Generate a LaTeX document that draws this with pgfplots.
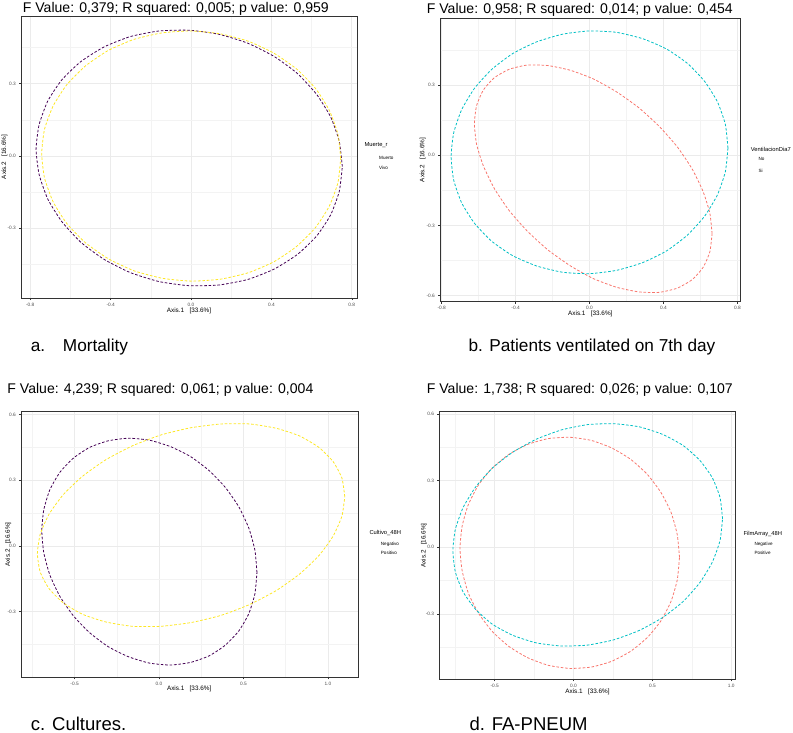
\documentclass[border=0pt]{standalone}
\usepackage{pgfplots}
\pgfplotsset{compat=1.18}
\usepackage{fontspec}
\setmainfont{Liberation Sans}
\definecolor{vpurple}{HTML}{440154}
\definecolor{vyellow}{HTML}{FDE725}
\definecolor{hred}{HTML}{F8766D}
\definecolor{hcyan}{HTML}{00BFC4}
\definecolor{gridc}{HTML}{EBEBEB}
\definecolor{tickc}{HTML}{4D4D4D}
\definecolor{framec}{HTML}{333333}
\pgfplotsset{
  pcoa/.style={
    scale only axis,
    anchor=north west,
    axis line style={draw=framec, line width=0.6bp},
    tick pos=left,
    tick align=outside,
    major tick length=2bp,
    minor tick length=0pt,
    tick style={draw=framec, line width=0.5bp},
    grid=both,
    major grid style={draw=gridc, line width=0.6bp},
    minor grid style={draw=gridc!60!white, line width=0.35bp},
    ticklabel style={font=\fontsize{4.8}{5}\selectfont, text=tickc, inner sep=0pt},
    xticklabel style={anchor=north, yshift=-2.5bp},
    yticklabel style={anchor=east, xshift=-3bp},
    /pgf/number format/fixed,
    /pgf/number format/fixed zerofill,
    /pgf/number format/precision=1,
    /pgf/number format/assume math mode=true,
  },
  ell/.style={line width=0.8bp, dash pattern=on 2.6bp off 1.8bp, smooth, tension=0.336, mark=none},
}
\begin{document}
\begin{tikzpicture}
\useasboundingbox (0,0) rectangle (793bp,-733bp);
% ---------- panel a
\begin{axis}[pcoa, at={(21bp,-16bp)}, width=336bp, height=282bp,
  xmin=-0.846, xmax=0.826, ymin=-0.589, ymax=0.581,
  xtick={-0.8,-0.4,0,0.4,0.8}, minor xtick={-0.6,-0.2,0.2,0.6},
  ytick={-0.3,0,0.3}, minor ytick={-0.45,-0.15,0.15,0.45}]
\addplot[ell, color=vpurple] coordinates {(0.753,-0.044) (0.738,0.060) (0.695,0.162) (0.625,0.256) (0.530,0.342) (0.414,0.413) (0.283,0.468) (0.140,0.505) (-0.009,0.522) (-0.158,0.519) (-0.301,0.496) (-0.432,0.453) (-0.548,0.392) (-0.643,0.316) (-0.713,0.228) (-0.756,0.130) (-0.771,0.028) (-0.756,-0.076) (-0.713,-0.178) (-0.643,-0.272) (-0.548,-0.358) (-0.432,-0.429) (-0.301,-0.484) (-0.158,-0.521) (-0.009,-0.538) (0.140,-0.535) (0.283,-0.512) (0.414,-0.469) (0.530,-0.408) (0.625,-0.332) (0.695,-0.244) (0.738,-0.146) (0.753,-0.044)};
\addplot[ell, color=vyellow] coordinates {(0.745,-0.010) (0.731,0.091) (0.688,0.190) (0.620,0.280) (0.527,0.360) (0.414,0.426) (0.286,0.476) (0.146,0.507) (0.001,0.519) (-0.144,0.511) (-0.284,0.484) (-0.412,0.438) (-0.525,0.374) (-0.618,0.296) (-0.686,0.208) (-0.729,0.111) (-0.743,0.010) (-0.729,-0.091) (-0.686,-0.190) (-0.618,-0.280) (-0.525,-0.360) (-0.412,-0.426) (-0.284,-0.476) (-0.144,-0.507) (0.001,-0.519) (0.146,-0.511) (0.286,-0.484) (0.414,-0.438) (0.527,-0.374) (0.620,-0.296) (0.688,-0.208) (0.731,-0.111) (0.745,-0.010)};
\end{axis}
% ---------- panel b
\begin{axis}[pcoa, at={(440bp,-18.3bp)}, width=300.7bp, height=283.4bp,
  xmin=-0.809, xmax=0.818, ymin=-0.626, ymax=0.586,
  xtick={-0.8,-0.4,0,0.4,0.8}, minor xtick={-0.6,-0.2,0.2,0.6},
  ytick={-0.6,-0.3,0,0.3}, minor ytick={-0.45,-0.15,0.15,0.45}]
\addplot[ell, color=hred] coordinates {(0.663,-0.335) (0.651,-0.247) (0.614,-0.154) (0.555,-0.058) (0.475,0.036) (0.377,0.124) (0.266,0.204) (0.145,0.272) (0.020,0.327) (-0.105,0.364) (-0.226,0.384) (-0.337,0.386) (-0.435,0.368) (-0.515,0.332) (-0.574,0.280) (-0.611,0.213) (-0.623,0.135) (-0.611,0.047) (-0.574,-0.046) (-0.515,-0.142) (-0.435,-0.236) (-0.337,-0.324) (-0.226,-0.404) (-0.105,-0.472) (0.020,-0.527) (0.145,-0.564) (0.266,-0.584) (0.377,-0.586) (0.475,-0.568) (0.555,-0.532) (0.614,-0.480) (0.651,-0.413) (0.663,-0.335)};
\addplot[ell, color=hcyan] coordinates {(0.749,0.031) (0.735,0.132) (0.692,0.229) (0.623,0.316) (0.530,0.393) (0.416,0.455) (0.287,0.499) (0.146,0.526) (0.000,0.532) (-0.146,0.518) (-0.287,0.485) (-0.416,0.435) (-0.530,0.367) (-0.623,0.286) (-0.692,0.195) (-0.735,0.096) (-0.749,-0.005) (-0.735,-0.106) (-0.692,-0.203) (-0.623,-0.290) (-0.530,-0.367) (-0.416,-0.429) (-0.287,-0.473) (-0.146,-0.500) (0.000,-0.506) (0.146,-0.492) (0.287,-0.459) (0.416,-0.409) (0.530,-0.341) (0.623,-0.260) (0.692,-0.169) (0.735,-0.070) (0.749,0.031)};
\end{axis}
% ---------- panel c
\begin{axis}[pcoa, at={(21bp,-411.7bp)}, width=337.3bp, height=265.6bp,
  xmin=-0.817, xmax=1.18, ymin=-0.6, ymax=0.613,
  xtick={-0.5,0,0.5,1}, minor xtick={-0.75,-0.25,0.25,0.75},
  ytick={-0.3,0,0.3,0.6}, minor ytick={-0.45,-0.15,0.15,0.45}]
\addplot[ell, color=vpurple] coordinates {(0.580,-0.121) (0.568,-0.020) (0.532,0.081) (0.473,0.178) (0.393,0.267) (0.297,0.344) (0.187,0.408) (0.067,0.454) (-0.057,0.483) (-0.181,0.492) (-0.301,0.480) (-0.411,0.450) (-0.507,0.401) (-0.587,0.336) (-0.646,0.257) (-0.682,0.166) (-0.694,0.069) (-0.682,-0.032) (-0.646,-0.133) (-0.587,-0.230) (-0.507,-0.319) (-0.411,-0.396) (-0.301,-0.460) (-0.181,-0.506) (-0.057,-0.535) (0.067,-0.544) (0.187,-0.532) (0.297,-0.502) (0.393,-0.453) (0.473,-0.388) (0.532,-0.309) (0.568,-0.218) (0.580,-0.121)};
\addplot[ell, color=vyellow] coordinates {(1.100,0.225) (1.083,0.310) (1.031,0.385) (0.947,0.450) (0.833,0.502) (0.696,0.537) (0.538,0.557) (0.368,0.557) (0.190,0.540) (0.012,0.507) (-0.158,0.457) (-0.316,0.393) (-0.453,0.318) (-0.567,0.234) (-0.651,0.145) (-0.703,0.054) (-0.720,-0.035) (-0.703,-0.120) (-0.651,-0.195) (-0.567,-0.260) (-0.453,-0.312) (-0.316,-0.347) (-0.158,-0.367) (0.012,-0.367) (0.190,-0.350) (0.368,-0.317) (0.538,-0.267) (0.696,-0.203) (0.833,-0.128) (0.947,-0.044) (1.031,0.045) (1.083,0.136) (1.100,0.225)};
\end{axis}
% ---------- panel d
\begin{axis}[pcoa, at={(439.3bp,-411.7bp)}, width=295.7bp, height=267.6bp,
  xmin=-0.851, xmax=1.024, ymin=-0.594, ymax=0.61,
  xtick={-0.5,0,0.5,1}, minor xtick={-0.75,-0.25,0.25,0.75},
  ytick={-0.3,0,0.3,0.6}, minor ytick={-0.45,-0.15,0.15,0.45}]
\addplot[ell, color=hred] coordinates {(0.672,-0.045) (0.658,0.056) (0.619,0.156) (0.554,0.247) (0.468,0.328) (0.362,0.396) (0.242,0.447) (0.112,0.481) (-0.024,0.495) (-0.160,0.489) (-0.290,0.463) (-0.410,0.418) (-0.516,0.356) (-0.602,0.281) (-0.667,0.192) (-0.706,0.096) (-0.720,-0.005) (-0.706,-0.106) (-0.667,-0.206) (-0.602,-0.297) (-0.516,-0.378) (-0.410,-0.446) (-0.290,-0.497) (-0.160,-0.531) (-0.024,-0.545) (0.112,-0.539) (0.242,-0.513) (0.362,-0.468) (0.468,-0.406) (0.554,-0.331) (0.619,-0.242) (0.658,-0.146) (0.672,-0.045)};
\addplot[ell, color=hcyan] coordinates {(0.945,0.128) (0.929,0.224) (0.880,0.313) (0.801,0.391) (0.695,0.458) (0.565,0.508) (0.417,0.542) (0.257,0.556) (0.090,0.552) (-0.077,0.528) (-0.237,0.486) (-0.385,0.428) (-0.515,0.356) (-0.621,0.271) (-0.700,0.179) (-0.749,0.082) (-0.765,-0.016) (-0.749,-0.112) (-0.700,-0.201) (-0.621,-0.279) (-0.515,-0.346) (-0.385,-0.396) (-0.237,-0.430) (-0.077,-0.444) (0.090,-0.440) (0.257,-0.416) (0.417,-0.374) (0.565,-0.316) (0.695,-0.244) (0.801,-0.159) (0.880,-0.067) (0.929,0.030) (0.945,0.128)};
\end{axis}
% ---------- titles
\begin{scope}[every node/.style={inner sep=0pt, anchor=base west, font=\fontsize{14.1}{16}\selectfont}]
\node at (22.7bp,-12.3bp) {F Value: 0,379; R squared: 0,005; p value: 0,959};
\node at (426.7bp,-13bp) {F Value: 0,958; R squared: 0,014; p value: 0,454};
\node at (7.3bp,-393.3bp) {F Value: 4,239; R squared: 0,061; p value: 0,004};
\node at (426.7bp,-393.3bp) {F Value: 1,738; R squared: 0,026; p value: 0,107};
\end{scope}
% ---------- captions
\begin{scope}[every node/.style={inner sep=0pt, anchor=base west, font=\fontsize{17.3}{19}\selectfont}]
\node at (30.7bp,-351.7bp) {a.};
\node at (62.7bp,-351.7bp) {Mortality};
\node at (468.3bp,-351.7bp) {b. Patients ventilated on 7th day};
\end{scope}
\begin{scope}[every node/.style={inner sep=0pt, anchor=base west, font=\fontsize{18.6}{20}\selectfont}]
\node at (30.7bp,-730bp) {c. Cultures.};
\node at (469.3bp,-730bp) {d. FA-PNEUM};
\end{scope}
% ---------- axis titles
\begin{scope}[every node/.style={inner sep=0pt, font=\fontsize{6.4}{7}\selectfont}]
\node at (189bp,-311bp) {Axis.1\ \ \ [33.6\%]};
\node[rotate=90] at (4.5bp,-157bp) {Axis.2\ \ \ [16.6\%]};
\node at (590.3bp,-314bp) {Axis.1\ \ \ [33.6\%]};
\node[rotate=90] at (422.7bp,-160bp) {Axis.2\ \ \ [16.6\%]};
\node at (189.2bp,-689bp) {Axis.1\ \ \ [33.6\%]};
\node[rotate=90] at (8.3bp,-544.5bp) {Axis.2\ \ \ [16.6\%]};
\node at (587.5bp,-691.7bp) {Axis.1\ \ \ [33.6\%]};
\node[rotate=90] at (424bp,-545.5bp) {Axis.2\ \ \ [16.6\%]};
\end{scope}
% ---------- legends
\begin{scope}[every node/.style={inner sep=0pt, anchor=west, font=\fontsize{5.8}{6}\selectfont}]
\node at (364.3bp,-145bp) {Muerte\_r};
\node at (750.7bp,-149.3bp) {VentilacionDia7};
\node at (369.3bp,-533.3bp) {Cultivo\_48H};
\node at (743.3bp,-534.3bp) {FilmArray\_48H};
\end{scope}
\begin{scope}[every node/.style={inner sep=0pt, anchor=west, font=\fontsize{4.6}{5}\selectfont}]
\node at (379bp,-158.3bp) {Muerto};
\node at (379bp,-168.3bp) {Vivo};
\node at (758.3bp,-159.3bp) {No};
\node at (758.3bp,-170.7bp) {Si};
\node at (380.7bp,-544bp) {Negativo};
\node at (380.7bp,-553.3bp) {Positivo};
\node at (754.3bp,-544.3bp) {Negative};
\node at (754.3bp,-553.3bp) {Positive};
\end{scope}
\end{tikzpicture}
\end{document}
